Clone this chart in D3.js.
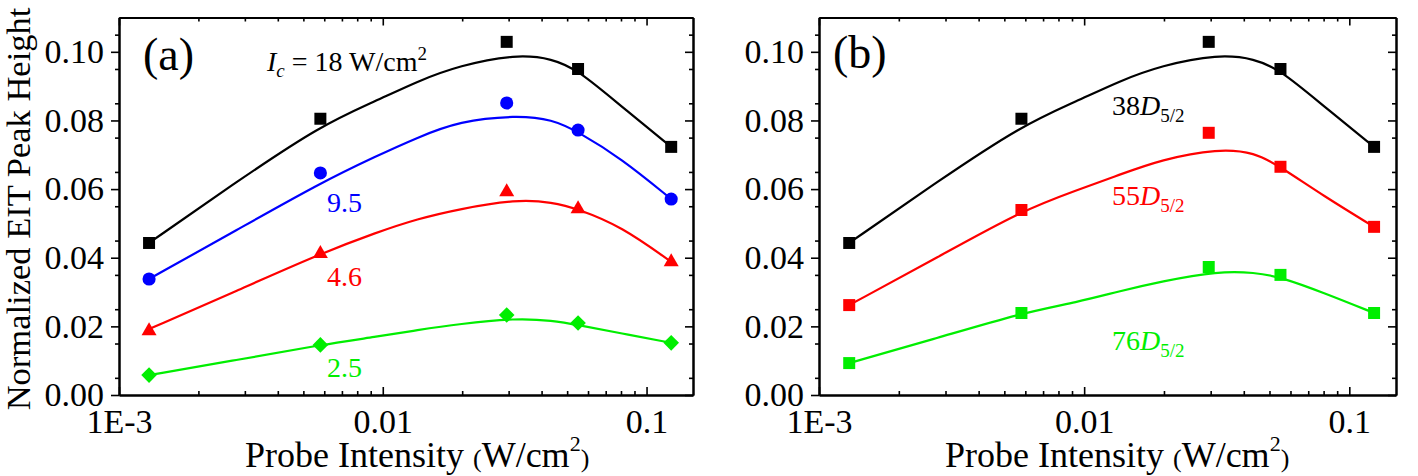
<!DOCTYPE html>
<html>
<head>
<meta charset="utf-8">
<script src="https://cdn.jsdelivr.net/npm/d3@7"></script>
<style>
body { margin: 0; background: #fff; }
svg, svg text { font-family: "Liberation Serif", "Times New Roman", serif; }
</style>
</head>
<body>
<script>
// measured probe intensities (W/cm^2)
var probeIntensity = [0.0013, 0.0058, 0.0295, 0.055, 0.124];

// panel (a): coupling intensity series
var peakIc18 = [0.0443, 0.0805, 0.1029, 0.095, 0.0723];
var peakIc95 = [0.0338, 0.0647, 0.0851, 0.0772, 0.0571];
var peakIc46 = [0.0192, 0.0417, 0.0597, 0.0548, 0.0393];
var peakIc25 = [0.0058, 0.0146, 0.0233, 0.021, 0.0152];

// panel (b): Rydberg state series
var peak38D = [0.0443, 0.0805, 0.1029, 0.095, 0.0723];
var peak55D = [0.0262, 0.0539, 0.0764, 0.0665, 0.049];
var peak76D = [0.0093, 0.0239, 0.0373, 0.035, 0.0239];

// fitted curves (control points)
var fitIntensity = [0.0013, 0.0028, 0.0058, 0.0095, 0.0135, 0.0195, 0.032, 0.044, 0.055, 0.08, 0.124];
var fitIc18 = [0.0443, 0.0622, 0.0785, 0.0858, 0.0914, 0.0960, 0.0993, 0.0980, 0.0947, 0.0842, 0.0723];
var fitIc95 = [0.0338, 0.0481, 0.0618, 0.0697, 0.0750, 0.0798, 0.0815, 0.0803, 0.0767, 0.069, 0.0571];
var fitIc46 = [0.0192, 0.0304, 0.0412, 0.0474, 0.0513, 0.0542, 0.0570, 0.0562, 0.0542, 0.0492, 0.0388];
var fitIc25 = [0.0058, 0.0102, 0.0146, 0.0170, 0.0189, 0.0207, 0.0224, 0.0217, 0.0204, 0.018, 0.0152];
var fit38D = fitIc18;
var fit55D = [0.0262, 0.0401, 0.0537, 0.0598, 0.0641, 0.0686, 0.0718, 0.0707, 0.0665, 0.058, 0.049];
var fit76D = [0.0093, 0.0166, 0.0239, 0.0271, 0.0302, 0.0331, 0.0361, 0.0357, 0.0344, 0.0298, 0.0239];

var xTickValues = [0.001, 0.01, 0.1];
var xTickLabels = ["1E-3", "0.01", "0.1"];
var yTickValues = [0, 0.02, 0.04, 0.06, 0.08, 0.10];

var W = 1418, H = 476;
var plotTop = 17.5, plotBottom = 395;
var serif = "Liberation Serif, Times New Roman, serif";

var svg = d3.select("body").append("svg")
    .attr("width", W)
    .attr("height", H);

function zip(xs, ys) {
    return xs.map(function (v, i) { return [v, ys[i]]; });
}

// marker shapes, all centred on their bounding box
var shapes = {
    square: "M-6,-6h12v12h-12z",
    circle: d3.symbol(d3.symbolCircle, 135)(),
    triangle: "M0,-6.8L7.5,6.2L-7.5,6.2Z",
    diamond: "M0,-7.8L7.8,0L0,7.8L-7.8,0Z"
};

function minorDecades(domain) {
    var out = [];
    for (var e = -3; e <= -1; e++) {
        for (var m = 2; m <= 9; m++) {
            var v = m * Math.pow(10, e);
            if (v > domain[0] && v < domain[1]) out.push(v);
        }
    }
    return out;
}

function addAxis(g, axis, tx, ty) {
    var a = g.append("g")
        .attr("transform", "translate(" + tx + "," + ty + ")")
        .call(axis)
        .attr("font-family", serif)
        .attr("font-size", 34);
    a.selectAll("text").style("font-family", serif).style("font-size", "34px");
    return a;
}

function drawPanel(left, right, series) {
    var x = d3.scaleLog().domain([0.001, 0.15]).range([left, right]);
    var y = d3.scaleLinear().domain([0, 0.11]).range([plotBottom, plotTop]);
    var g = svg.append("g");

    var xMinor = minorDecades(x.domain());
    var yMinor = d3.range(0.005, 0.11, 0.01);

    // bottom (ticks inward)
    addAxis(g, d3.axisBottom(x).tickValues(xMinor).tickSizeInner(-4).tickSizeOuter(0).tickFormat(""), 0, plotBottom);
    addAxis(g, d3.axisBottom(x).tickValues(xTickValues).tickSizeInner(-8).tickSizeOuter(0).tickPadding(14)
        .tickFormat(function (d, i) { return xTickLabels[i]; }), 0, plotBottom);
    // top
    addAxis(g, d3.axisTop(x).tickValues(xMinor).tickSizeInner(-4).tickSizeOuter(0).tickFormat(""), 0, plotTop);
    addAxis(g, d3.axisTop(x).tickValues(xTickValues).tickSizeInner(-8).tickSizeOuter(0).tickFormat(""), 0, plotTop);
    // left (ticks outward)
    addAxis(g, d3.axisLeft(y).tickValues(yMinor).tickSizeInner(4).tickSizeOuter(0).tickFormat(""), left, 0);
    addAxis(g, d3.axisLeft(y).tickValues(yTickValues).tickSizeInner(8).tickSizeOuter(0).tickPadding(7)
        .tickFormat(d3.format(".2f")), left, 0);
    // right
    addAxis(g, d3.axisRight(y).tickValues(yMinor).tickSizeInner(-4).tickSizeOuter(0).tickFormat(""), right, 0);
    addAxis(g, d3.axisRight(y).tickValues(yTickValues).tickSizeInner(-8).tickSizeOuter(0).tickFormat(""), right, 0);

    g.selectAll(".domain").attr("stroke", "#000").attr("stroke-width", 2);
    g.selectAll(".tick line").attr("stroke", "#000").attr("stroke-width", 1.6);
    g.selectAll(".tick text").attr("fill", "#000");

    var line = d3.line()
        .x(function (d) { return x(d[0]); })
        .y(function (d) { return y(d[1]); })
        .curve(d3.curveBasis);

    series.forEach(function (s) {
        g.append("path")
            .attr("d", line(zip(fitIntensity, s.fit)))
            .attr("fill", "none")
            .attr("stroke", s.color)
            .attr("stroke-width", 2.2);
        g.selectAll(null)
            .data(zip(probeIntensity, s.values))
            .enter()
            .append("path")
            .attr("d", shapes[s.shape])
            .attr("fill", s.color)
            .attr("transform", function (d) { return "translate(" + x(d[0]) + "," + y(d[1]) + ")"; });
    });

    // x axis title
    var xt = g.append("text")
        .attr("x", left + 126)
        .attr("y", 467)
        .style("font-size", "36px");
    xt.append("tspan").text("Probe Intensity ");
    xt.append("tspan").style("font-size", "26px").text("(");
    xt.append("tspan").text("W/cm");
    xt.append("tspan").style("font-size", "22px").attr("dy", -16).text("2");
    xt.append("tspan").style("font-size", "26px").attr("dy", 16).text(")");

    return g;
}

var blue = "#0000ff", red = "#ff0000", green = "#00ee00";

var ga = drawPanel(119, 693, [
    { values: peakIc18, fit: fitIc18, color: "#000", shape: "square" },
    { values: peakIc95, fit: fitIc95, color: blue, shape: "circle" },
    { values: peakIc46, fit: fitIc46, color: red, shape: "triangle" },
    { values: peakIc25, fit: fitIc25, color: green, shape: "diamond" }
]);

var gb = drawPanel(819, 1396, [
    { values: peak38D, fit: fit38D, color: "#000", shape: "square" },
    { values: peak55D, fit: fit55D, color: red, shape: "square" },
    { values: peak76D, fit: fit76D, color: green, shape: "square" }
]);

// y axis title
svg.append("text")
    .attr("transform", "translate(30,209) rotate(-90)")
    .attr("text-anchor", "middle")
    .style("font-size", "34.5px")
    .text("Normalized EIT Peak Height");

// panel letters
ga.append("text").attr("x", 143).attr("y", 70).style("font-size", "46px").text("(a)");
gb.append("text").attr("x", 833).attr("y", 68).style("font-size", "46px").text("(b)");

// coupling label
var ic = ga.append("text").attr("x", 267).attr("y", 71).style("font-size", "28px");
ic.append("tspan").style("font-style", "italic").text("I");
ic.append("tspan").style("font-style", "italic").style("font-size", "19px").attr("dy", 6).text("c");
ic.append("tspan").attr("dy", -6).text(" = 18 W/cm");
ic.append("tspan").style("font-size", "19px").attr("dy", -11).text("2");

// series values in panel (a)
var icLabels = [
    { text: "9.5", color: blue, y: 212 },
    { text: "4.6", color: red, y: 286 },
    { text: "2.5", color: green, y: 377 }
];
ga.selectAll(".iclab").data(icLabels).enter().append("text")
    .attr("x", 327).attr("y", function (d) { return d.y; })
    .attr("fill", function (d) { return d.color; })
    .style("font-size", "28px")
    .text(function (d) { return d.text; });

// state labels in panel (b)
var stateLabels = [
    { n: "38", color: "#000", y: 115 },
    { n: "55", color: red, y: 205 },
    { n: "76", color: green, y: 350 }
];
stateLabels.forEach(function (d) {
    var t = gb.append("text").attr("x", 1112).attr("y", d.y)
        .attr("fill", d.color).style("font-size", "28px");
    t.append("tspan").text(d.n);
    t.append("tspan").style("font-style", "italic").text("D");
    t.append("tspan").style("font-size", "19px").attr("dy", 7).text("5/2");
});
</script>
</body>
</html>
